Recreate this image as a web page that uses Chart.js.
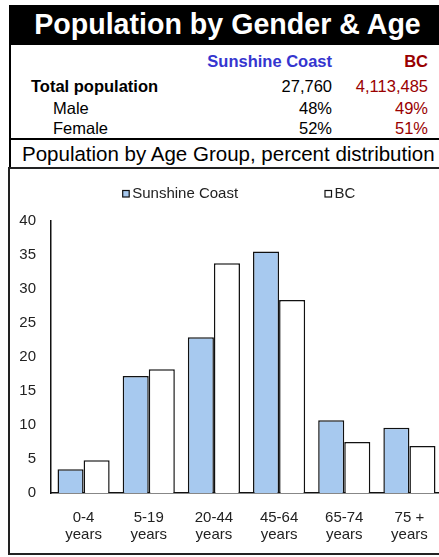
<!DOCTYPE html>
<html>
<head>
<meta charset="utf-8">
<script src="https://cdn.jsdelivr.net/npm/chart.js@4.4.1/dist/chart.umd.min.js"></script>
<style>
  html, body { margin: 0; padding: 0; background: #fff; overflow: hidden; width: 439px; height: 557px;
    font-family: 'Liberation Sans', Arial, sans-serif; }
  .abs { position: absolute; white-space: nowrap; line-height: 1; }
  .line { position: absolute; background: #000; }
  #title-band { left: 9px; top: 5px; width: 440px; height: 40px; background: #000; }
  #title { left: 0; top: 9.5px; width: 455px; text-align: center; color: #fff; font-weight: bold; font-size: 28.6px; }
  .t16 { font-size: 16.5px; }
  .b { font-weight: bold; }
  .blue { color: #3535cf; }
  .red { color: #990000; }
  .r1 { left: 0; width: 332px; text-align: right; }
  .r2 { left: 0; width: 428px; text-align: right; }
  #subtitle { left: 22px; top: 143.5px; font-size: 20.5px; color: #000; }
  #chart-box { position: absolute; left: 8px; top: 167px; width: 450px; height: 388px;
    border: 2px solid #222; box-sizing: border-box; pointer-events: none; z-index: 2; }
  #wrap { position: absolute; left: 10px; top: 169px; width: 440px; height: 384px; }
</style>
</head>
<body>
<div id="title-band" class="abs"></div>
<div id="title" class="abs">Population by Gender &amp; Age</div>

<div class="line" style="left:9px;top:45px;width:2px;height:123px;"></div>
<div class="line" style="left:9px;top:138px;width:440px;height:2px;"></div>

<div class="abs t16 b blue r1" style="top:52.7px;">Sunshine Coast</div>
<div class="abs t16 b red r2" style="top:52.7px;">BC</div>

<div class="abs t16 b" style="left:31px;top:78.3px;">Total population</div>
<div class="abs t16 r1" id="sc-total" style="top:78.3px;"></div>
<div class="abs t16 red r2" id="bc-total" style="top:78.3px;"></div>

<div class="abs t16" style="left:53px;top:100.3px;">Male</div>
<div class="abs t16 r1" id="sc-male" style="top:100.3px;"></div>
<div class="abs t16 red r2" id="bc-male" style="top:100.3px;"></div>

<div class="abs t16" style="left:53px;top:120px;">Female</div>
<div class="abs t16 r1" id="sc-female" style="top:120px;"></div>
<div class="abs t16 red r2" id="bc-female" style="top:120px;"></div>

<div id="subtitle" class="abs">Population by Age Group, percent distribution</div>

<div id="wrap"><canvas id="chart" width="440" height="384"></canvas></div>
<div id="chart-box"></div>

<script>
// ── Data ───────────────────────────────────────────────────────────────────
const seriesNames = ['Sunshine Coast', 'BC'];
const ageGroups   = [['0-4', 'years'], ['5-19', 'years'], ['20-44', 'years'],
                     ['45-64', 'years'], ['65-74', 'years'], ['75 +', 'years']];
const sunshineCoast = [3.5, 17.2, 22.9, 35.5, 10.7, 9.6];
const bc            = [4.8, 18.2, 33.8, 28.4, 7.5, 6.9];
const yTicks        = [0, 5, 10, 15, 20, 25, 30, 35, 40];

const totals  = ['27,760', '4,113,485'];
const males   = ['48%', '49%'];
const females = ['52%', '51%'];

// ── Summary table ──────────────────────────────────────────────────────────
document.getElementById('sc-total').textContent  = totals[0];
document.getElementById('bc-total').textContent  = totals[1];
document.getElementById('sc-male').textContent   = males[0];
document.getElementById('bc-male').textContent   = males[1];
document.getElementById('sc-female').textContent = females[0];
document.getElementById('bc-female').textContent = females[1];

// ── Chart ──────────────────────────────────────────────────────────────────
const FONT = "'Liberation Sans', Arial, sans-serif";
const TEXT = '#222';

// Excel-style legend: boxes + labels at fixed spots above the plot
const legendPlugin = {
  id: 'excelLegend',
  afterDraw(chart) {
    const ctx = chart.ctx;
    const spots = [112.7, 315];
    ctx.save();
    ctx.font = '15px ' + FONT;
    ctx.textBaseline = 'middle';
    chart.data.datasets.forEach((ds, i) => {
      const x = spots[i], y = 24.5;
      ctx.fillStyle = ds.backgroundColor;
      ctx.fillRect(x, y - 3, 6.5, 6.5);
      ctx.strokeStyle = '#111';
      ctx.lineWidth = 1.2;
      ctx.strokeRect(x, y - 3, 6.5, 6.5);
      ctx.fillStyle = TEXT;
      ctx.fillText(ds.label, x + 9.5, y + 0.5);
    });
    ctx.restore();
  }
};

new Chart(document.getElementById('chart'), {
  type: 'bar',
  data: {
    labels: ageGroups,
    datasets: [
      { label: seriesNames[0], data: sunshineCoast, backgroundColor: '#a7c9ef' },
      { label: seriesNames[1], data: bc,            backgroundColor: '#ffffff' },
    ],
  },
  options: {
    responsive: false,
    animation: false,
    devicePixelRatio: 1,
    layout: { padding: { top: 52, right: 8, bottom: 10, left: 9 } },
    datasets: {
      bar: {
        categoryPercentage: 0.8,
        barPercentage: 1,
        borderColor: '#111',
        borderWidth: 1.5,
      },
    },
    plugins: { legend: { display: false }, tooltip: { enabled: false } },
    scales: {
      x: {
        afterFit: scale => { scale.height = 50; },
        grid: { display: false, drawTicks: false },
        border: { display: true, color: '#111', width: 1.5 },
        ticks: { color: TEXT, padding: 16, font: { family: FONT, size: 15, lineHeight: 1.15 } },
      },
      y: {
        min: yTicks[0],
        max: yTicks[yTicks.length - 1],
        afterBuildTicks: scale => { scale.ticks = yTicks.map(v => ({ value: v })); },
        afterFit: scale => { scale.width = 32; },
        grid: { display: false, drawTicks: false },
        border: { display: true, color: '#111', width: 1.5 },
        ticks: { color: TEXT, padding: 15, font: { family: FONT, size: 15 } },
      },
    },
  },
  plugins: [legendPlugin],
});
</script>
</body>
</html>
